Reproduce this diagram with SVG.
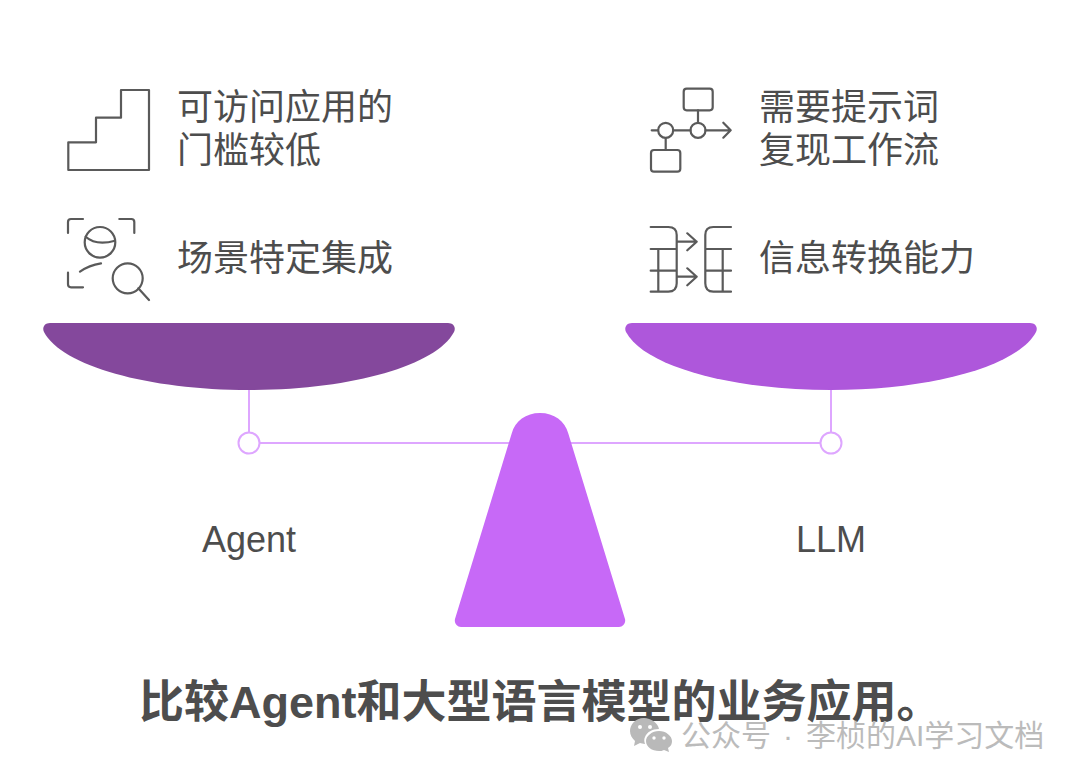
<svg xmlns="http://www.w3.org/2000/svg" width="1080" height="778" viewBox="0 0 1080 778">
<style>
text{font-family:"Liberation Sans","Noto Sans CJK SC",sans-serif;font-size:36px;fill:#4d4d4d}
.i{fill:none;stroke:#5a5a5a;stroke-width:2.200;stroke-linecap:round;stroke-linejoin:round}
.c{fill:none;stroke:#dea6ff;stroke-width:2}
</style>
<rect width="1080" height="778" fill="#fff"/>
<g id="connectors">
<path class="c" d="M249 389V432M831 389V432M260 443H520M560 443H820"/>
<circle class="c" cx="249" cy="443" r="10.5"/>
<circle class="c" cx="831" cy="443" r="10.5"/>
</g>
<g id="pan-left"><path d="M50 323H448C454 323 456 328 454 332C436 366 350 390 249 390C148 390 62 366 44 332C42 328 44 323 50 323Z" fill="#84489c"/></g>
<g id="pan-right"><path d="M632 323H1030C1036 323 1038 328 1036 332C1018 366 932 390 831 390C730 390 644 366 626 332C624 328 626 323 632 323Z" fill="#ae57db"/></g>
<g id="fulcrum"><path d="M511.700 433.500C515 421 526 413 540 413C554 413 565 421 568.300 433.500L625 619C626 623 623 627 619 627H461C457 627 454 623 455 619Z" fill="#c769f7"/></g>
<g id="stairs"><path class="i" d="M68.300 170V142.300H96V117.700H121V90H149V170Z"/></g>
<g id="scene"><path class="i" d="M68 233V222Q68 219 71 219H83M119.300 219H131.300Q134.300 219 134.300 222V233M68 272.700V284.300Q68 287.300 71 287.300H83M80 271.700Q89 265 101 263.300M85.700 236.700Q96 246 115 240.700M138.300 288.300L149 300"/><circle class="i" cx="100" cy="242.300" r="15.300"/><circle class="i" cx="127.700" cy="278.300" r="15"/></g>
<g id="flow"><rect class="i" x="683.700" y="88.700" width="29" height="21.600" rx="3"/><rect class="i" x="651" y="150" width="29.300" height="21.700" rx="3"/><circle class="i" cx="698" cy="130.300" r="7.500"/><circle class="i" cx="665.700" cy="130.300" r="7.500"/><path class="i" d="M698 110.300V122.700M651.700 130.300H658M673.200 130.300H690.500M705.500 130.300H730.700M723.300 122.700L730.700 130.300L723.300 137.700M665.700 138V150"/></g>
<g id="table"><path class="i" d="M650.700 227H668.300Q676.700 227 676.700 235V283.300Q676.700 291.700 668.300 291.700H650.700M650.700 249H676.700M650.700 270.700H676.700M658.300 249V291.700M676.700 241.700H696.700M687.300 233.300L696.700 241.700L687.300 250.300M676.700 276.700H696.700M687.300 268.300L696.700 276.700L687.300 285.300M731 227H713.300Q705.300 227 705.300 235V283.300Q705.300 291.700 713.300 291.700H731M705.300 249H731M705.300 270.700H731M722.700 249V291.700"/></g>
<g id="labels">
<text x="177" y="120">可访问应用的</text>
<text x="177" y="163">门槛较低</text>
<text x="177" y="271">场景特定集成</text>
<text x="759" y="120">需要提示词</text>
<text x="759" y="163">复现工作流</text>
<text x="759" y="271">信息转换能力</text>
<text x="249" y="552" text-anchor="middle">Agent</text>
<text x="831" y="552" text-anchor="middle">LLM</text>
<text x="139" y="717.500" style="font-size:45px;font-weight:700">比较Agent和大型语言模型的业务应用。</text>
</g>
<g id="watermark">
<path fill="#b9b9b9" d="M644 718C635 718 630 725 630 731C630 735 632 738 635 741L634 746L640 743C641 743 643 744 645 744C644 741 644 739 645 737C647 732 652 729 659 729C658 723 651 718 644 718Z"/>
<path fill="#b9b9b9" d="M659 731C652 731 646 736 646 741C646 747 652 751 659 751C661 751 662 751 664 750L669 752L668 748C671 746 672 744 672 741C672 736 666 731 659 731Z"/>
<g fill="#fff"><circle cx="640" cy="727" r="2"/><circle cx="650" cy="727" r="2"/><circle cx="654" cy="738" r="1.700"/><circle cx="664" cy="738" r="1.700"/></g>
<text x="681" y="745.500" style="font-size:30px;fill:#bbb">公众号<tspan x="783">·</tspan><tspan x="806">李桢的AI学习文档</tspan></text>
</g>
</svg>
